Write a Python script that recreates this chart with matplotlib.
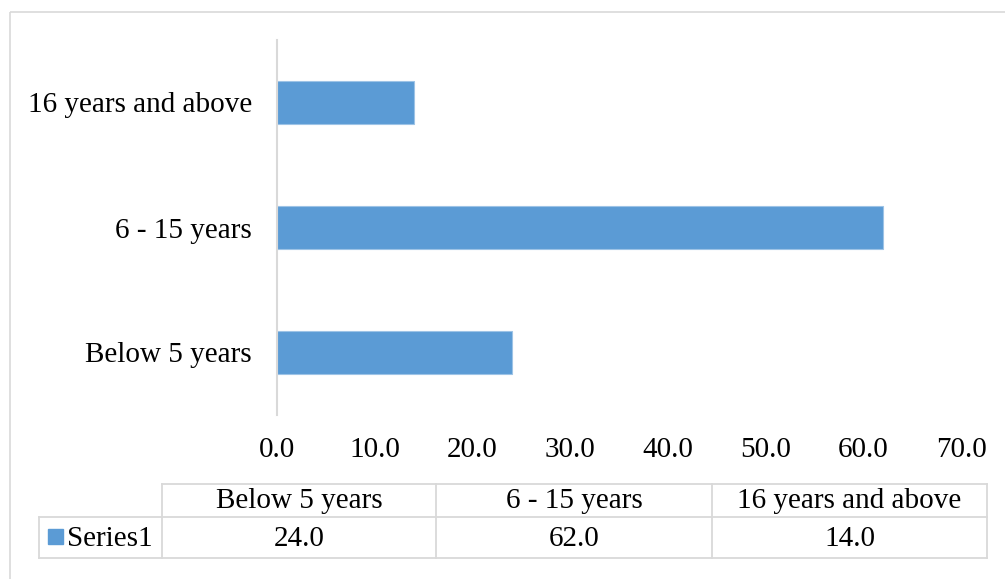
import matplotlib.pyplot as plt
from matplotlib.patches import Rectangle

categories = ["Below 5 years", "6 - 15 years", "16 years and above"]
values = [24.0, 62.0, 14.0]
series_name = "Series1"
xticks = [0, 10, 20, 30, 40, 50, 60, 70]

bar_color = "#5B9BD5"
grid_color = "#D9D9D9"

plt.rcParams["font.family"] = ["Liberation Serif", "DejaVu Serif"]
fsize = 21

W, H = 1005, 579
fig = plt.figure(figsize=(W / 100, H / 100), dpi=100)

# page overlay in pixel coordinates (border + data table)
bg = fig.add_axes([0, 0, 1, 1])
bg.set_xlim(0, W)
bg.set_ylim(H, 0)
bg.axis("off")
bg.add_patch(Rectangle((10, 12), W, H, fill=False, edgecolor=grid_color, lw=1.2))

ax = fig.add_axes([277 / W, 1 - 415 / H, (961 - 277) / W, (415 - 40) / H])
ax.barh(range(len(values)), values, height=0.35, color=bar_color,
        edgecolor="#9DC3E6", linewidth=0.8)
ax.set_xlim(0, 70)
ax.set_ylim(-0.5, 2.5)
ax.set_yticks(range(len(categories)))
ax.set_yticklabels(categories, fontsize=fsize)
ax.set_xticks(xticks)
ax.set_xticklabels([f"{t:.1f}" for t in xticks], fontsize=fsize)
ax.tick_params(length=0)
ax.tick_params(axis="y", pad=18)
ax.tick_params(axis="x", pad=16)
for s in ["top", "right", "bottom"]:
    ax.spines[s].set_visible(False)
ax.spines["left"].set_color(grid_color)
ax.spines["left"].set_linewidth(1.5)

# data table under the axis
col_x = [162, 436, 712, 987]
row_y = [484, 517, 558]
lc = dict(color=grid_color, lw=1.3)
bg.plot([col_x[0], col_x[-1]], [row_y[0], row_y[0]], **lc)
bg.plot([39, col_x[-1]], [row_y[1], row_y[1]], **lc)
bg.plot([39, col_x[-1]], [row_y[2], row_y[2]], **lc)
for x in col_x:
    bg.plot([x, x], [row_y[0], row_y[2]], **lc)
bg.plot([39, 39], [row_y[1], row_y[2]], **lc)

for i, (cat, v) in enumerate(zip(categories, values)):
    cx = (col_x[i] + col_x[i + 1]) / 2
    bg.text(cx, (row_y[0] + row_y[1]) / 2 + 1, cat, ha="center", va="center", fontsize=fsize)
    bg.text(cx, (row_y[1] + row_y[2]) / 2 + 1, f"{v:.1f}", ha="center", va="center", fontsize=fsize)

bg.add_patch(Rectangle((48, 529), 15, 15, color=bar_color))
bg.text(67, (row_y[1] + row_y[2]) / 2 + 1, series_name, ha="left", va="center", fontsize=fsize)

fig.savefig("out.png", dpi=100)
